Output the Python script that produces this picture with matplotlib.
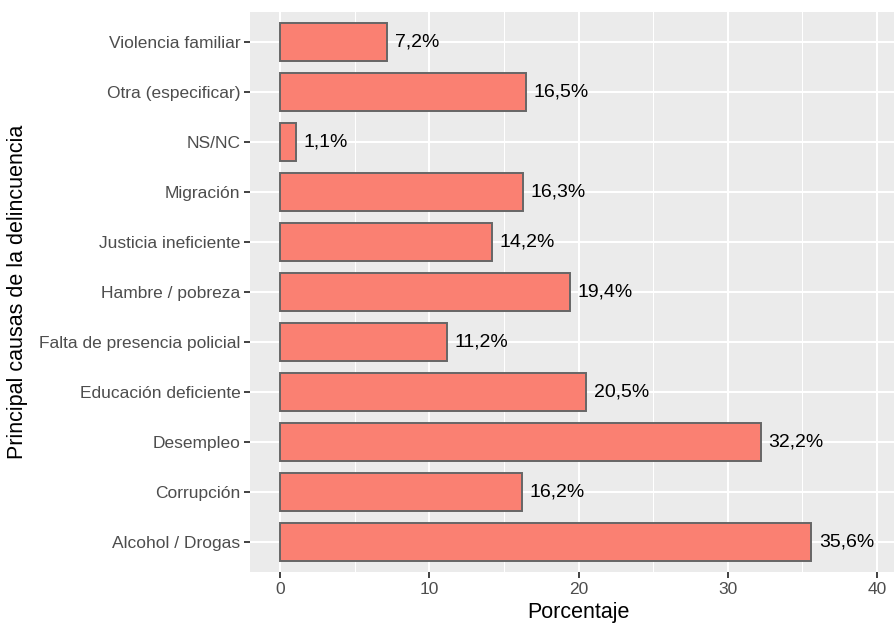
import matplotlib as mpl
import matplotlib.pyplot as plt

causas = ['Alcohol / Drogas', 'Corrupción', 'Desempleo', 'Educación deficiente',
          'Falta de presencia policial', 'Hambre / pobreza', 'Justicia ineficiente',
          'Migración', 'NS/NC', 'Otra (especificar)', 'Violencia familiar']
porcentajes = [35.6, 16.2, 32.2, 20.5, 11.2, 19.4, 14.2, 16.3, 1.1, 16.5, 7.2]
x_ticks = [0, 10, 20, 30, 40]

mpl.rcParams['font.family'] = ['Liberation Sans', 'DejaVu Sans']

dpi = 100
fig = plt.figure(dpi=dpi, figsize=(895 / dpi, 623 / dpi))
ax = fig.add_axes([250 / 895, 1 - 572 / 623, 657 / 895, 560 / 623])
ax.set_facecolor('#EBEBEB')
for s in ax.spines.values():
    s.set_visible(False)

ys = range(len(causas))
ax.barh(ys, porcentajes, height=0.75, color='#FA8072', edgecolor='#666666',
        linewidth=1.4, zorder=3)

for y, v in zip(ys, porcentajes):
    ax.annotate(f'{v:.1f}%'.replace('.', ','), (v, y), xytext=(5.5, 0),
                textcoords='offset points', va='center', ha='left',
                fontsize=14, color='black', zorder=4)

ax.set_xlim(-2, 42)
ax.set_ylim(-0.6, len(causas) - 0.4)
ax.set_xticks(x_ticks)
ax.set_xticks([5, 15, 25, 35], minor=True)
ax.set_yticks(list(ys))
ax.set_yticklabels(causas)

ax.grid(True, which='major', color='white', linewidth=1.5, zorder=1)
ax.grid(True, which='minor', axis='x', color='white', linewidth=0.75, zorder=1)
ax.set_axisbelow(True)

ax.tick_params(axis='both', which='major', length=4, width=1.3, color='#333333',
               labelsize=12.5, labelcolor='#4D4D4D', pad=3)
ax.tick_params(axis='both', which='minor', length=0)

ax.set_xlabel('Porcentaje', fontsize=15.5, color='black', labelpad=4)
fig.text(18 / 895, 1 - 292 / 623, 'Principal causas de la delincuencia',
         rotation=90, fontsize=15.5, va='center', ha='center')

fig.savefig('out.png', dpi=dpi)
